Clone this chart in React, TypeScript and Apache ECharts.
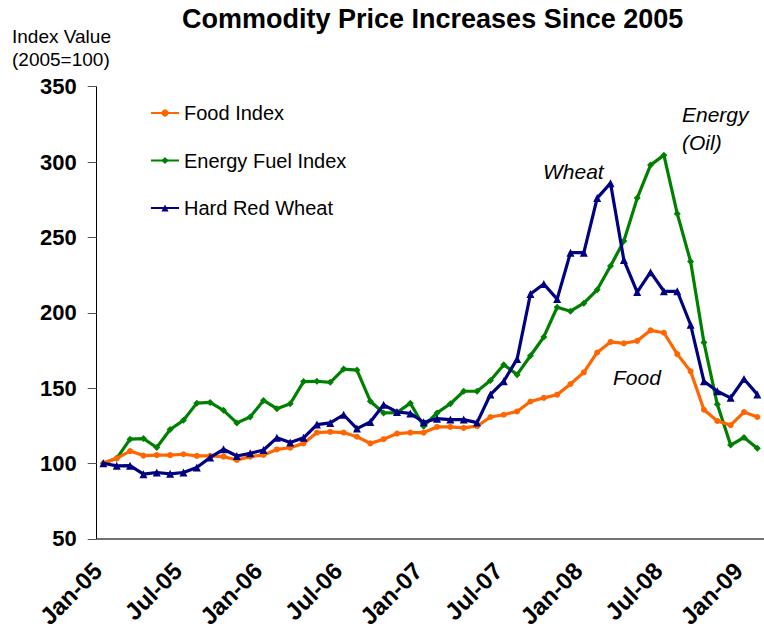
import React, { useEffect, useRef } from "react";
import * as echarts from "echarts";

const categories = [
  "Jan-05","Feb-05","Mar-05","Apr-05","May-05","Jun-05","Jul-05","Aug-05","Sep-05","Oct-05","Nov-05","Dec-05",
  "Jan-06","Feb-06","Mar-06","Apr-06","May-06","Jun-06","Jul-06","Aug-06","Sep-06","Oct-06","Nov-06","Dec-06",
  "Jan-07","Feb-07","Mar-07","Apr-07","May-07","Jun-07","Jul-07","Aug-07","Sep-07","Oct-07","Nov-07","Dec-07",
  "Jan-08","Feb-08","Mar-08","Apr-08","May-08","Jun-08","Jul-08","Aug-08","Sep-08","Oct-08","Nov-08","Dec-08",
  "Jan-09","Feb-09",
];

const foodIndex = [
  100.2, 103.5, 108.3, 105.3, 105.6, 105.6, 106.2, 105.1, 105.1, 104.6, 102.4, 104.6,
  105.7, 109.4, 110.5, 113.4, 120.6, 121.1, 120.6, 117.8, 113.4, 116.2, 119.9, 120.6,
  120.6, 124.3, 124.3, 123.7, 124.8, 130.9, 132.4, 134.6, 141.2, 143.6, 145.7, 152.8,
  160.5, 173.7, 180.7, 179.8, 181.4, 188.4, 186.8, 172.6, 161.2, 135.7, 128.3, 125.5,
  134.2, 130.9,
];

const energyFuelIndex = [
  100.2, 103.5, 116.2, 116.6, 110.7, 122.6, 128.7, 140.1, 140.6, 135.3, 127.0, 130.9,
  141.9, 136.4, 139.7, 154.4, 154.6, 153.9, 162.7, 162.0, 141.4, 133.6, 133.8, 140.1,
  124.8, 133.6, 139.7, 148.0, 148.0, 155.1, 165.6, 159.0, 171.5, 184.0, 203.7, 201.1,
  206.4, 215.3, 231.1, 247.6, 276.1, 298.0, 304.6, 265.8, 234.0, 180.3, 139.3, 112.3,
  117.3, 110.1,
];

const hardRedWheat = [
  100.2, 98.5, 98.6, 93.0, 94.1, 93.2, 94.1, 97.4, 104.1, 109.5, 105.0, 106.8,
  109.0, 117.1, 114.0, 117.1, 125.9, 127.0, 132.4, 123.2, 127.6, 139.0, 134.2, 133.3,
  127.4, 129.8, 129.2, 129.2, 127.2, 145.8, 154.6, 169.3, 212.5, 219.1, 209.1, 239.9,
  239.9, 276.1, 286.0, 235.0, 213.8, 227.0, 214.3, 214.3, 192.1, 154.6, 148.0, 143.6,
  156.1, 145.9,
];

const FONT = 'Arial, "Liberation Sans", Helvetica, sans-serif';

export default function App() {
  const ref = useRef<HTMLDivElement>(null);

  useEffect(() => {
    document.body.style.margin = "0";
    document.body.style.overflow = "hidden";
    if (!ref.current) return;
    const chart = echarts.init(ref.current, undefined, { renderer: "svg" });
    const option: any = {
      animation: false,
      backgroundColor: "#ffffff",
      title: {
        text: "Commodity Price Increases Since 2005",
        left: 177,
        top: 0,
        textStyle: { fontFamily: FONT, fontSize: 27, fontWeight: "bold", color: "#000" },
      },
      legend: {
        orient: "vertical",
        left: 150,
        top: 103,
        padding: 0,
        itemWidth: 28,
        itemHeight: 9,
        itemGap: 27.5,
        textStyle: { fontFamily: FONT, fontSize: 20, color: "#000" },
        data: ["Food Index", "Energy Fuel Index", "Hard Red Wheat"],
      },
      grid: { left: 96.7, top: 86.7, width: 675, height: 456.3, containLabel: false },
      xAxis: {
        type: "category",
        data: categories,
        boundaryGap: true,
        axisLine: { lineStyle: { color: "#444", width: 1.5 } },
        axisTick: { interval: 5, length: 9, lineStyle: { color: "#444" } },
        axisLabel: {
          interval: 5,
          rotate: 45,
          margin: 22,
          padding: [0, 8, 0, 0],
          fontFamily: FONT,
          fontSize: 24,
          fontWeight: "bold",
          color: "#000",
        },
        splitLine: { show: false },
      },
      yAxis: {
        type: "value",
        min: 50,
        max: 350,
        interval: 50,
        axisLine: { show: true, lineStyle: { color: "#000", width: 1 } },
        axisTick: { show: true, length: 9, lineStyle: { color: "#555" } },
        axisLabel: { fontFamily: FONT, fontSize: 22, fontWeight: "bold", color: "#000", margin: 20 },
        splitLine: { show: false },
      },
      series: [
        {
          name: "Food Index",
          type: "line",
          data: foodIndex,
          symbol: "circle",
          symbolSize: 6,
          showAllSymbol: true,
          color: "#FF6600",
          lineStyle: { width: 3.2, color: "#FF6600" },
          itemStyle: { color: "#FF6600" },
          z: 3,
        },
        {
          name: "Energy Fuel Index",
          type: "line",
          data: energyFuelIndex,
          symbol: "diamond",
          symbolSize: 7,
          showAllSymbol: true,
          color: "#008000",
          lineStyle: { width: 3.2, color: "#008000" },
          itemStyle: { color: "#008000" },
          z: 2,
        },
        {
          name: "Hard Red Wheat",
          type: "line",
          data: hardRedWheat,
          symbol: "triangle",
          symbolSize: 8,
          showAllSymbol: true,
          color: "#000080",
          lineStyle: { width: 3.2, color: "#000080" },
          itemStyle: { color: "#000080" },
          z: 4,
        },
      ],
      graphic: [
        { type: "text", left: 12, top: 27, style: { text: "Index Value", fontFamily: FONT, fontSize: 19, fill: "#000" } },
        { type: "text", left: 12, top: 50, style: { text: "(2005=100)", fontFamily: FONT, fontSize: 19, fill: "#000" } },
        { type: "text", left: 682, top: 104, style: { text: "Energy", fontFamily: FONT, fontSize: 21, fontStyle: "italic", fill: "#000" } },
        { type: "text", left: 682, top: 132, style: { text: "(Oil)", fontFamily: FONT, fontSize: 21, fontStyle: "italic", fill: "#000" } },
        { type: "text", left: 543, top: 161, style: { text: "Wheat", fontFamily: FONT, fontSize: 21, fontStyle: "italic", fill: "#000" } },
        { type: "text", left: 613, top: 367, style: { text: "Food", fontFamily: FONT, fontSize: 21, fontStyle: "italic", fill: "#000" } },
      ],
    };
    chart.setOption(option);
    return () => chart.dispose();
  }, []);

  return (
    <div
      ref={ref}
      style={{ position: "absolute", left: 0, top: 0, width: 764, height: 631, overflow: "hidden", background: "#fff" }}
    />
  );
}
